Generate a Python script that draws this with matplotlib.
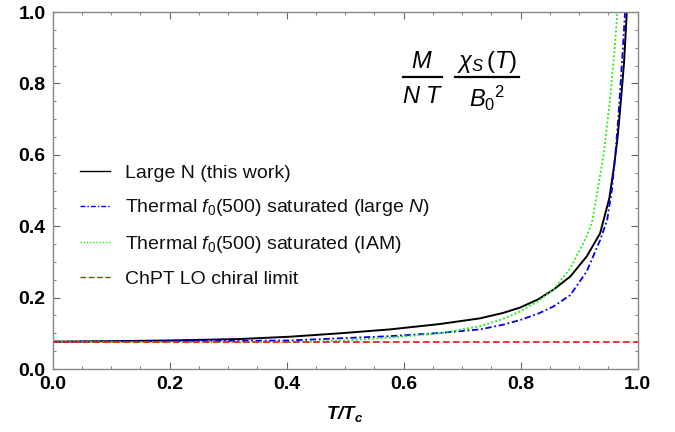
import matplotlib
matplotlib.use("Agg")
import matplotlib.pyplot as plt
from matplotlib.ticker import MultipleLocator, FormatStrFormatter
from matplotlib.lines import Line2D

plt.rcParams['font.family'] = ['Liberation Sans', 'DejaVu Sans']
plt.rcParams['mathtext.fontset'] = 'custom'
plt.rcParams['mathtext.rm'] = 'Liberation Sans'
plt.rcParams['mathtext.it'] = 'Liberation Sans:italic'
plt.rcParams['mathtext.bf'] = 'Liberation Sans:bold'
plt.rcParams['mathtext.bfit'] = 'Liberation Sans:italic:bold'

# Data
x_large = [0.0, 0.1, 0.2, 0.32, 0.406, 0.491, 0.577, 0.662, 0.731, 0.770, 0.799, 0.830, 0.856, 0.885,
           0.913, 0.936, 0.944, 0.952, 0.960, 0.966, 0.972, 0.977, 0.982]
y_large = [0.0765, 0.078, 0.080, 0.084, 0.0905, 0.100, 0.111, 0.126, 0.142, 0.157, 0.172, 0.195, 0.222, 0.259,
           0.315, 0.380, 0.43, 0.48, 0.57, 0.65, 0.76, 0.86, 1.01]

x_sat_largeN = [0.0, 0.1, 0.2, 0.32, 0.406, 0.491, 0.577, 0.662, 0.731, 0.770, 0.799, 0.830, 0.856, 0.885,
                0.913, 0.936, 0.948, 0.956, 0.962, 0.967, 0.971, 0.975, 0.979]
y_sat_largeN = [0.0765, 0.077, 0.078, 0.079, 0.080, 0.086, 0.092, 0.101, 0.111, 0.124, 0.137, 0.155, 0.175, 0.207,
                0.273, 0.361, 0.417, 0.50, 0.60, 0.70, 0.80, 0.90, 1.01]

x_sat_iam = [0.0, 0.1, 0.2, 0.32, 0.406, 0.491, 0.577, 0.662, 0.731, 0.770, 0.799, 0.830, 0.856, 0.885,
             0.913, 0.923, 0.942, 0.952, 0.960, 0.966]
y_sat_iam = [0.0765, 0.076, 0.075, 0.075, 0.075, 0.079, 0.088, 0.100, 0.120, 0.140, 0.161, 0.190, 0.222, 0.282,
             0.371, 0.417, 0.60, 0.74, 0.88, 1.01]

x_chpt = [0.0, 1.0]
y_chpt = [0.0765, 0.0765]

labels = ["Large N (this work)",
          r"Thermal $f_0$(500) saturated (large $N$)",
          r"Thermal $f_0$(500) saturated (IAM)",
          "ChPT LO chiral limit"]

fig = plt.figure(figsize=(6.75, 4.32), dpi=100)
ax = fig.add_axes([0.0778, 0.1458, 0.8667, 0.8264])

l1, = ax.plot(x_large, y_large, color='black', lw=1.4, label=labels[0])
l2, = ax.plot(x_sat_largeN, y_sat_largeN, color='#0000ee', lw=1.3,
              linestyle=(0, (3.5, 1.5, 1.0, 1.5)), label=labels[1])
l3, = ax.plot(x_sat_iam, y_sat_iam, color='#22ee22', lw=1.3,
              linestyle=(0, (1.1, 1.2)), label=labels[2])
l4, = ax.plot(x_chpt, y_chpt, color='#ee1111', lw=1.2,
              linestyle=(0, (4, 2)), label=labels[3])

ax.set_xlim(0, 1)
ax.set_ylim(0, 1)
ax.xaxis.set_major_locator(MultipleLocator(0.2))
ax.xaxis.set_minor_locator(MultipleLocator(0.05))
ax.yaxis.set_major_locator(MultipleLocator(0.2))
ax.yaxis.set_minor_locator(MultipleLocator(0.05))
ax.xaxis.set_major_formatter(FormatStrFormatter('%.1f'))
ax.yaxis.set_major_formatter(FormatStrFormatter('%.1f'))
ax.tick_params(which='both', direction='in', top=True, right=True,
               labeltop=False, labelright=False, color='#666666')
ax.tick_params(which='major', length=5, width=0.8, labelsize=14, pad=5)
ax.tick_params(which='minor', length=2.5, width=0.6)
for lab in ax.get_xticklabels() + ax.get_yticklabels():
    lab.set_fontweight('bold')
for s in ax.spines.values():
    s.set_color('#888888')
    s.set_linewidth(1.0)

ax.set_xlabel(r'$\mathbfit{T/T_c}$', fontsize=13.5, labelpad=8)

# formula annotation
fs = 17
ax.text(0.632, 0.860, r'$M$', fontsize=fs, ha='center', va='center', transform=ax.transAxes)
ax.text(0.632, 0.762, r'$N\,\,T$', fontsize=fs, ha='center', va='center', transform=ax.transAxes)
ax.add_line(Line2D([0.599, 0.665], [0.819, 0.819], color='black', lw=1.6,
                   transform=ax.transAxes))
ax.text(0.743, 0.860, r'$\chi_S\,(T)$', fontsize=fs, ha='center', va='center', transform=ax.transAxes)
ax.text(0.743, 0.757, r'$B_0{}^{2}$', fontsize=fs, ha='center', va='center', transform=ax.transAxes)
ax.add_line(Line2D([0.688, 0.798], [0.819, 0.819], color='black', lw=1.6,
                   transform=ax.transAxes))

leg = ax.legend(handles=[l1, l2, l3, l4], loc='center left',
                bbox_to_anchor=(0.047, 0.4, ), frameon=False, fontsize=14,
                handlelength=1.54, labelspacing=0.8, handletextpad=0.75,
                borderpad=0, borderaxespad=0)
for t in leg.get_texts():
    t.set_color('#111111')
for h in leg.get_lines():
    h.set_linewidth(1.0)

fig.savefig('out.png', dpi=100)
